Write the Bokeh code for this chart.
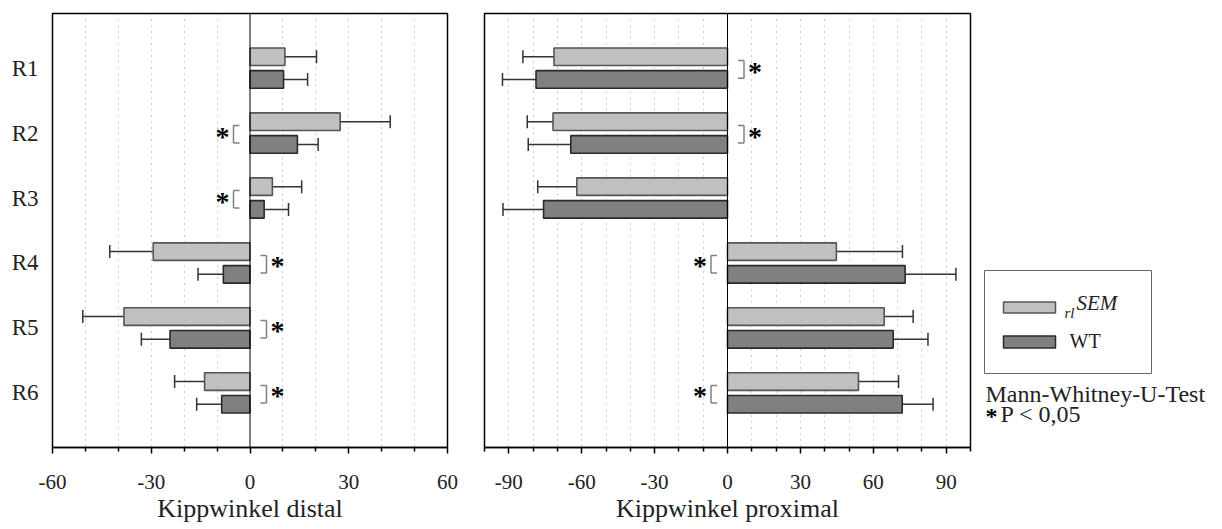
import numpy as np
from bokeh.plotting import figure
from bokeh.models import Range1d, FixedTicker, Span
from bokeh.layouts import row
from bokeh.embed import file_html
from bokeh.resources import INLINE
from bokeh.core.properties import value

# ---------------- data ----------------
rows = ["R1", "R2", "R3", "R4", "R5", "R6"]

distal_rl_mean = [10.6, 27.4, 6.8, -29.4, -38.3, -13.8]
distal_rl_sem = [9.6, 15.2, 8.9, 13.2, 12.5, 9.1]
distal_wt_mean = [10.2, 14.4, 4.3, -8.1, -24.3, -8.6]
distal_wt_sem = [7.3, 6.3, 7.4, 7.7, 8.7, 7.6]

prox_rl_mean = [-71.4, -71.8, -62.0, 44.8, 64.5, 53.9]
prox_rl_sem = [12.8, 10.6, 16.1, 27.2, 11.9, 16.5]
prox_wt_mean = [-78.8, -64.5, -75.7, 73.1, 68.2, 71.9]
prox_wt_sem = [13.8, 17.5, 16.7, 20.9, 14.3, 12.7]

distal_sig = [False, True, True, True, True, True]
prox_sig = [True, True, False, True, False, True]

distal_ticks = [-60, -30, 0, 30, 60]
prox_ticks = [-90, -60, -30, 0, 30, 60, 90]

distal_label = "Kippwinkel distal"
prox_label = "Kippwinkel proximal"
legend_rl = ("rl", "SEM")
legend_wt = "WT"
test_name = "Mann-Whitney-U-Test"
test_p = "P < 0,05"

# ---------------- style ----------------
SERIF = "Liberation Serif"
LIGHT = "#c0c0c0"
DARK = "#808080"
TXT = "#222222"
H = 529
BT, BB = 13, 82
OFF, BAR_H, CAP = 0.175, 0.27, 0.1


def panel(xmin, xmax, ticks, width, bl, br, rl_m, rl_s, wt_m, wt_s, sig, xlabel, show_y):
    p = figure(width=width, height=H, x_range=Range1d(xmin, xmax),
               y_range=Range1d(6.84, 0.16), output_backend="svg",
               toolbar_location=None, min_border_left=bl, min_border_right=br,
               min_border_top=BT, min_border_bottom=BB,
               y_axis_location="left" if show_y else None,
               outline_line_color="black", outline_line_width=1.5,
               background_fill_color="white", border_fill_color="white")
    frame_w = width - bl - br
    scale = frame_w / (xmax - xmin)

    p.ygrid.visible = False
    p.xgrid.ticker = FixedTicker(ticks=[t for t in range(xmin + 10, xmax, 10) if t != 0])
    p.xgrid.grid_line_color = "#9a9a9a"
    p.xgrid.grid_line_dash = "1 5"
    p.xgrid.grid_line_width = 1

    ys = np.arange(1, 7, dtype=float)
    rl_m = np.array(rl_m); rl_s = np.array(rl_s)
    wt_m = np.array(wt_m); wt_s = np.array(wt_s)

    for m, s, yy, fill, lc in ((rl_m, rl_s, ys - OFF, LIGHT, "#555555"),
                               (wt_m, wt_s, ys + OFF, DARK, "#2a2a2a")):
        end = m + np.sign(m) * s
        p.segment(x0=m, y0=yy, x1=end, y1=yy, line_color="#333333", line_width=1.5)
        p.segment(x0=end, y0=yy - CAP, x1=end, y1=yy + CAP, line_color="#333333", line_width=1.5)
        p.hbar(y=yy, left=0, right=m, height=BAR_H, fill_color=fill,
               line_color=lc, line_width=1.6)

    p.add_layout(Span(location=0, dimension="height", line_color="black", line_width=1))

    # significance brackets + stars
    inner, outer, star = 10.5 / scale, 16.5 / scale, 27.5 / scale
    x0s, y0s, x1s, y1s, sx, sy = [], [], [], [], [], []
    for i, flag in enumerate(sig):
        if not flag:
            continue
        side = -np.sign(rl_m[i])
        yc, h = ys[i] + 0.02, 0.135
        xo, xi = side * outer, side * inner
        x0s += [xo, xi, xi]; x1s += [xo, xo, xo]
        y0s += [yc - h, yc - h, yc + h]; y1s += [yc + h, yc - h, yc + h]
        sx.append(side * star); sy.append(ys[i])
    p.segment(x0=x0s, y0=y0s, x1=x1s, y1=y1s, line_color="#808080", line_width=1.5)
    p.text(x=sx, y=sy, text=["*"] * len(sx), text_font=value(SERIF),
           text_font_style="bold", text_font_size="28px", text_align="center",
           text_baseline="alphabetic", y_offset=3, text_color="black")

    ax = p.xaxis[0]
    ax.ticker = FixedTicker(ticks=ticks,
                            minor_ticks=[t for t in range(xmin, xmax + 1, 10) if t not in ticks])
    ax.major_label_overrides = {t: str(t) for t in ticks}
    ax.major_tick_out, ax.major_tick_in = 6, 0
    ax.minor_tick_out, ax.minor_tick_in = 4, 0
    ax.axis_line_width = 1.5
    ax.major_tick_line_width = 1.5
    ax.minor_tick_line_width = 1.5
    ax.major_label_text_font = SERIF
    ax.major_label_text_font_size = "21px"
    ax.major_label_text_color = TXT
    ax.major_label_standoff = 21
    ax.axis_label = xlabel
    ax.axis_label_text_font = SERIF
    ax.axis_label_text_font_size = "26px"
    ax.axis_label_text_font_style = "normal"
    ax.axis_label_text_color = TXT
    ax.axis_label_standoff = 2

    if show_y:
        ya = p.yaxis[0]
        ya.ticker = FixedTicker(ticks=list(range(1, 7)))
        ya.major_label_overrides = {i + 1: r for i, r in enumerate(rows)}
        ya.major_tick_out = ya.major_tick_in = 0
        ya.minor_tick_out = ya.minor_tick_in = 0
        ya.axis_line_color = None
        ya.major_label_standoff = 14
        ya.major_label_text_font = SERIF
        ya.major_label_text_font_size = "23px"
        ya.major_label_text_color = TXT
    return p


p1 = panel(-60, 60, distal_ticks, 470, 52, 23, distal_rl_mean, distal_rl_sem,
           distal_wt_mean, distal_wt_sem, distal_sig, distal_label, True)
p2 = panel(-100, 100, prox_ticks, 503, 14, 3, prox_rl_mean, prox_rl_sem,
           prox_wt_mean, prox_wt_sem, prox_sig, prox_label, False)

# ---------------- legend panel (coordinates = page pixels) ----------------
p3 = figure(width=249, height=H, x_range=Range1d(973, 1222), y_range=Range1d(H - BB, BT),
            output_backend="svg", toolbar_location=None,
            min_border_left=0, min_border_right=0, min_border_top=BT, min_border_bottom=BB,
            x_axis_location=None, y_axis_location=None, outline_line_color=None,
            background_fill_color="white", border_fill_color="white")
p3.grid.visible = False
p3.quad(left=[984], right=[1151], top=[270], bottom=[373], fill_color=None,
        line_color="#666666", line_width=1)
p3.quad(left=[1003], right=[1055], top=[301.5], bottom=[312.5], fill_color=LIGHT,
        line_color="#555555", line_width=1.5)
p3.quad(left=[1003], right=[1055], top=[335.5], bottom=[347.5], fill_color=DARK,
        line_color="#2a2a2a", line_width=1.5)
p3.text(x=[1064], y=[312], text=[legend_rl[0]], text_font=value(SERIF), text_font_style="italic",
        text_font_size="15px", text_baseline="alphabetic", text_color=TXT)
p3.text(x=[1076], y=[302], text=[legend_rl[1]], text_font=value(SERIF), text_font_style="italic",
        text_font_size="21px", text_baseline="alphabetic", text_color=TXT)
p3.text(x=[1069], y=[340], text=[legend_wt], text_font=value(SERIF),
        text_font_size="20px", text_baseline="alphabetic", text_color=TXT)
p3.text(x=[985], y=[393], text=[test_name], text_font=value(SERIF),
        text_font_size="24px", text_baseline="alphabetic", text_color=TXT)
p3.text(x=[985], y=[415], text=["*"], text_font=value(SERIF), text_font_style="bold",
        text_font_size="24px", text_baseline="alphabetic", text_color="black")
p3.text(x=[1000], y=[413], text=[test_p], text_font=value(SERIF),
        text_font_size="24px", text_baseline="alphabetic", text_color=TXT)

layout = row(p1, p2, p3)
open("out.html", "w").write(file_html(layout, INLINE))
